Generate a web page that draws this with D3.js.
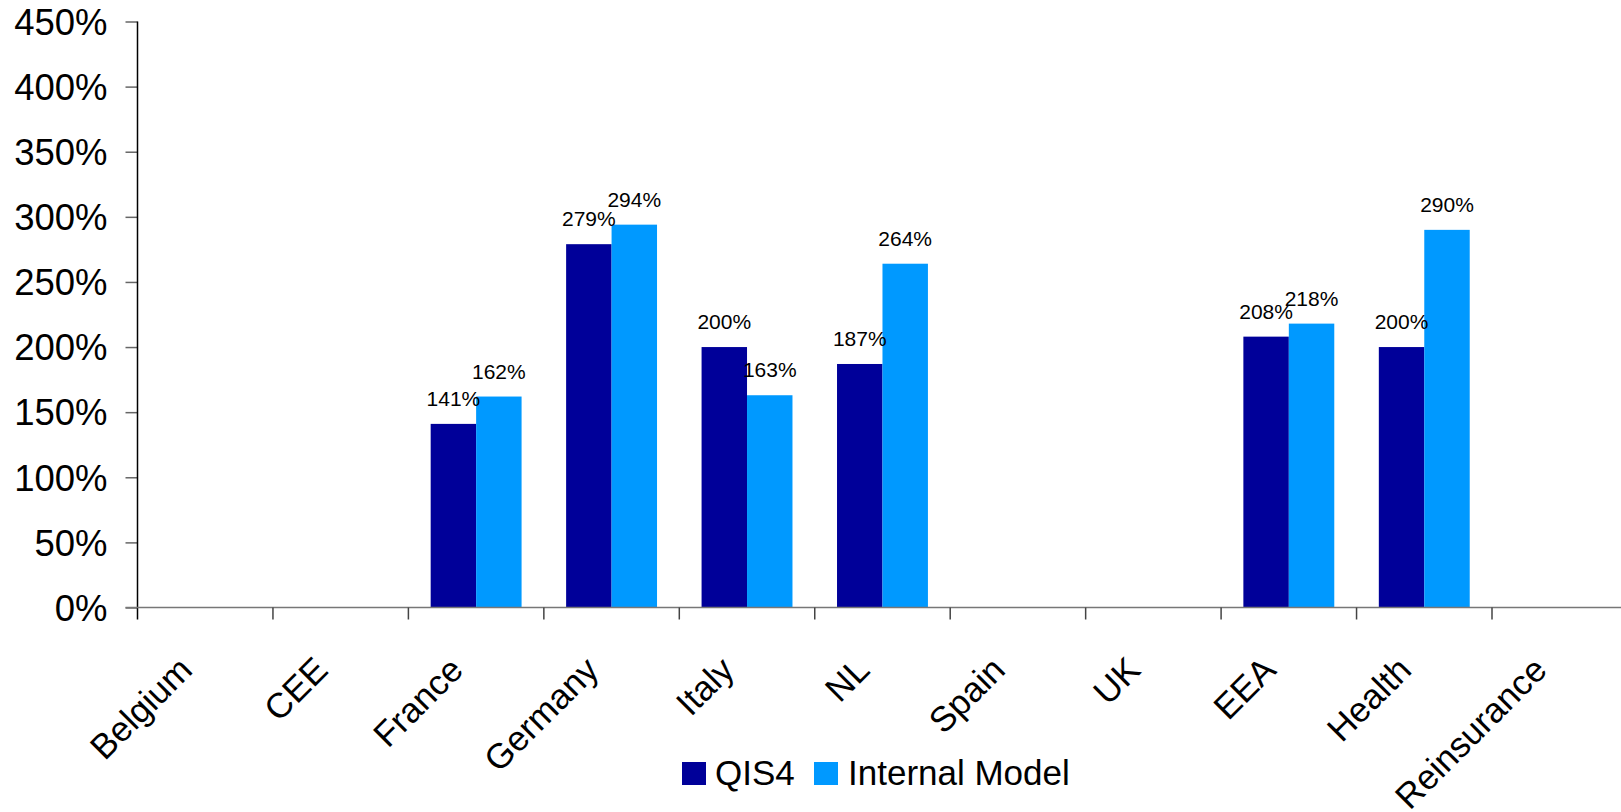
<!DOCTYPE html>
<html>
<head>
<meta charset="utf-8">
<script src="https://cdn.jsdelivr.net/npm/d3@7"></script>
<style>
  html, body { margin: 0; padding: 0; background: #fff; }
  svg { display: block; font-family: "Liberation Sans", Arial, sans-serif; }
</style>
</head>
<body>
<svg id="chart" width="1621" height="812"></svg>
<script>
const categories = ["Belgium", "CEE", "France", "Germany", "Italy", "NL", "Spain", "UK", "EEA", "Health", "Reinsurance"];
const seriesNames = ["QIS4", "Internal Model"];
const qis4 = [null, null, 141, 279, 200, 187, null, null, 208, 200, null];
const internalModel = [null, null, 162, 294, 163, 264, null, null, 218, 290, null];
const yTicks = [0, 50, 100, 150, 200, 250, 300, 350, 400, 450];
const colors = ["#000099", "#0099FF"];

const seriesValues = [qis4, internalModel];

const svg = d3.select("#chart");
const left = 137.5, y0px = 607.5, yTop = 21.5;
const step = 135.45;

const x0 = d3.scaleBand().domain(categories).range([left, left + step * categories.length]).padding(0);
const x1 = d3.scaleBand().domain(seriesNames).range([0, x0.bandwidth()]).paddingInner(0).paddingOuter(0.49);
const y = d3.scaleLinear().domain([0, 450]).range([y0px, yTop]);

// bars
const data = [];
categories.forEach((c, i) => {
  seriesNames.forEach((s, j) => {
    const v = seriesValues[j][i];
    if (v != null) data.push({ c, s, j, v });
  });
});

svg.append("g").selectAll("rect").data(data).join("rect")
  .attr("x", d => x0(d.c) + x1(d.s))
  .attr("y", d => y(d.v))
  .attr("width", x1.bandwidth())
  .attr("height", d => y(0) - y(d.v))
  .attr("fill", d => colors[d.j]);

// data labels
svg.append("g").selectAll("text").data(data).join("text")
  .attr("x", d => x0(d.c) + x1(d.s) + x1.bandwidth() / 2)
  .attr("y", d => y(d.v) - 18)
  .attr("text-anchor", "middle")
  .attr("font-size", 21)
  .attr("fill", "#000")
  .text(d => d.v + "%");

// y axis
const yAxis = d3.axisLeft(y).tickValues(yTicks).tickSize(12).tickPadding(18).tickFormat(d => d + "%");
const gy = svg.append("g").attr("transform", `translate(${left},0)`).call(yAxis);
gy.select(".domain").remove();
gy.selectAll(".tick line").attr("stroke", "#666").attr("stroke-width", 1.5);
gy.selectAll(".tick text").attr("font-size", 36.5).attr("fill", "#000")
  .attr("font-family", '"Liberation Sans", Arial, sans-serif').attr("dy", "0.35em");
svg.append("line").attr("x1", left).attr("x2", left).attr("y1", yTop).attr("y2", y0px + 12)
  .attr("stroke", "#000").attr("stroke-width", 1.5);

// x axis line
svg.append("line").attr("x1", left - 12).attr("x2", 1621).attr("y1", y0px).attr("y2", y0px)
  .attr("stroke", "#777").attr("stroke-width", 1.5);

// x ticks at band boundaries
const bounds = categories.slice(1).map(c => x0(c));
svg.append("g").selectAll("line").data(bounds).join("line")
  .attr("x1", d => d).attr("x2", d => d)
  .attr("y1", y0px).attr("y2", y0px + 12)
  .attr("stroke", "#444").attr("stroke-width", 1.5);

// category labels
svg.append("g").selectAll("text").data(categories).join("text")
  .attr("transform", d => `translate(${x0(d) + x0.bandwidth() / 2 - 11},${672}) rotate(-45)`)
  .attr("text-anchor", "end")
  .attr("font-size", 35)
  .attr("fill", "#000")
  .text(d => d);

// legend
const legendItems = [
  { name: seriesNames[0], color: colors[0], sx: 682, tx: 715 },
  { name: seriesNames[1], color: colors[1], sx: 814, tx: 848 }
];
const lg = svg.append("g");
legendItems.forEach(it => {
  lg.append("rect").attr("x", it.sx).attr("y", 762).attr("width", 24).attr("height", 23).attr("fill", it.color);
  lg.append("text").attr("x", it.tx).attr("y", 784.5).attr("font-size", 35).attr("fill", "#000").text(it.name);
});
</script>
</body>
</html>
